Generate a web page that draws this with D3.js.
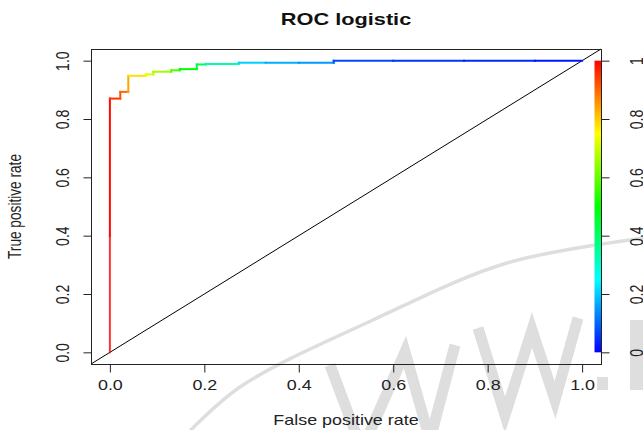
<!DOCTYPE html>
<html>
<head>
<meta charset="utf-8">
<script src="https://cdn.jsdelivr.net/npm/d3@7"></script>
<style>
  body { margin: 0; background: #fff; }
  svg { display: block; font-family: "Liberation Sans", Arial, sans-serif; }
</style>
</head>
<body>
<script>
// ROC curve points (fpr, tpr) and the cutoff that colours each piece
const fpr    = [0, 0, 0, 0.022, 0.022, 0.039, 0.039, 0.076, 0.076, 0.092, 0.092, 0.130, 0.130, 0.148, 0.148, 0.184, 0.184, 0.203, 0.203, 0.273, 0.273, 0.33, 0.40, 0.474, 0.474, 0.60, 0.75, 0.90, 1.0];
const tpr    = [0, 0.40, 0.870, 0.870, 0.893, 0.893, 0.948, 0.948, 0.953, 0.953, 0.962, 0.962, 0.967, 0.967, 0.971, 0.971, 0.987, 0.987, 0.989, 0.989, 0.993, 0.993, 0.993, 0.993, 1.0, 1.0, 1.0, 1.0, 1.0];
const cutoff = [1.0, 0.99, 0.95, 0.92, 0.90, 0.84, 0.78, 0.73, 0.72, 0.68, 0.66, 0.60, 0.58, 0.53, 0.50, 0.45, 0.42, 0.36, 0.33, 0.27, 0.20, 0.17, 0.15, 0.10, 0.07, 0.05, 0.04, 0.02, 0.0];

const xTicks = [0, 0.2, 0.4, 0.6, 0.8, 1.0];
const yTicks = [0, 0.2, 0.4, 0.6, 0.8, 1.0];
const barTicks = [0, 0.2, 0.4, 0.6, 0.8, 1];
const barTickLabels = ["0", "0.2", "0.4", "0.6", "0.8", "1"];

const W = 643, H = 430;
const sx = 1.28; // picture is stretched sideways

const svg = d3.select("body").append("svg").attr("width", W).attr("height", H);

// scales (R style 4% padding)
const x = d3.scaleLinear().domain([-0.04, 1.04]).range([91, 601]);
const y = d3.scaleLinear().domain([-0.04, 1.04]).range([364, 49]);

// colour of a cutoff, like rev(rainbow(start=0,end=4/6))
const col = c => d3.hsl((1 - c) * 240, 1, 0.5).formatHex();

// watermark (light grey, behind)
const grey = "#dedede";
const wm = svg.append("g").attr("fill", "none").attr("stroke", grey);
wm.append("path")
  .attr("stroke-width", 3.5)
  .attr("d", d3.line().curve(d3.curveCatmullRom)([[185, 436], [240, 387], [373, 320], [507, 263], [645, 238]]));
wm.append("path")
  .attr("stroke-width", 11).attr("stroke-linejoin", "miter")
  .attr("d", d3.line()([[330, 365], [362, 450], [405, 352], [430, 440], [455, 345]]));
wm.append("path")
  .attr("stroke-width", 11).attr("stroke-linejoin", "miter")
  .attr("d", d3.line()([[478, 328], [505, 415], [532, 330], [555, 400], [578, 318]]));
svg.append("rect").attr("x", 597).attr("y", 377).attr("width", 11).attr("height", 13).attr("fill", grey);
svg.append("rect").attr("x", 630).attr("y", 320).attr("width", 14).attr("height", 70).attr("fill", grey);

// diagonal
svg.append("line")
  .attr("x1", x(-0.04)).attr("y1", y(-0.04))
  .attr("x2", x(1.04)).attr("y2", y(1.04))
  .attr("stroke", "#000").attr("stroke-width", 1);

// coloured ROC curve
const segs = d3.range(fpr.length - 1).map(i => ({
  x1: fpr[i], y1: tpr[i], x2: fpr[i + 1], y2: tpr[i + 1], c: cutoff[i]
}));
svg.append("g").selectAll("line").data(segs).enter().append("line")
  .attr("x1", d => x(d.x1)).attr("y1", d => y(d.y1))
  .attr("x2", d => x(d.x2)).attr("y2", d => y(d.y2))
  .attr("stroke", d => col(d.c))
  .attr("stroke-opacity", (d, i) => i === 0 ? 0.8 : 1)
  .attr("stroke-width", 2)
  .attr("stroke-linecap", "square");

// colour bar
const grad = svg.append("defs").append("linearGradient")
  .attr("id", "bar").attr("x1", 0).attr("y1", 1).attr("x2", 0).attr("y2", 0);
grad.selectAll("stop").data(d3.range(0, 1.0001, 0.05)).enter().append("stop")
  .attr("offset", d => d).attr("stop-color", d => col(d));
svg.append("rect")
  .attr("x", 594.5).attr("y", y(1)).attr("width", 6.5).attr("height", y(0) - y(1))
  .attr("fill", "url(#bar)");

// box
svg.append("rect")
  .attr("x", x(-0.04) + 0.5).attr("y", y(1.04) + 0.5)
  .attr("width", x(1.04) - x(-0.04)).attr("height", y(-0.04) - y(1.04))
  .attr("fill", "none").attr("stroke", "#222").attr("stroke-width", 1);

// axes
function styleAxis(g) {
  g.selectAll("path.domain").attr("stroke", "#222");
  g.selectAll(".tick line").attr("stroke", "#222");
  g.selectAll(".tick text").attr("fill", "#222").attr("font-size", 14)
    .attr("x", null).attr("y", null).attr("dy", null);
}

const gx = svg.append("g").attr("transform", "translate(0,364.5)")
  .call(d3.axisBottom(x).tickValues(xTicks).tickFormat(d3.format(".1f")).tickSize(8).tickSizeOuter(0));
gx.select("path.domain").attr("d", `M${x(0)},0H${x(1)}`);
styleAxis(gx);
gx.selectAll(".tick text").attr("text-anchor", "middle").attr("transform", `translate(0,25) scale(${sx},1)`);

const gy = svg.append("g").attr("transform", "translate(91.5,0)")
  .call(d3.axisLeft(y).tickValues(yTicks).tickFormat(d3.format(".1f")).tickSize(8).tickSizeOuter(0));
gy.select("path.domain").attr("d", `M0,${y(0)}V${y(1)}`);
styleAxis(gy);
gy.selectAll(".tick text").attr("text-anchor", "middle").attr("transform", `translate(-23,0) scale(${sx},1) rotate(-90)`);

const gr = svg.append("g").attr("transform", "translate(601.5,0)")
  .call(d3.axisRight(y).tickValues(barTicks).tickFormat((d, i) => barTickLabels[i]).tickSize(8).tickSizeOuter(0));
gr.select("path.domain").attr("d", `M0,${y(0)}V${y(1)}`);
styleAxis(gr);
gr.selectAll(".tick text").attr("text-anchor", "middle").attr("transform", `translate(41,0) scale(${sx},1) rotate(-90)`);

// titles
svg.append("text")
  .attr("transform", `translate(346,25) scale(${sx},1)`)
  .attr("text-anchor", "middle").attr("font-size", 17).attr("font-weight", "bold").attr("fill", "#111")
  .text("ROC logistic");

svg.append("text")
  .attr("transform", `translate(346,425) scale(${sx},1)`)
  .attr("text-anchor", "middle").attr("font-size", 14).attr("fill", "#222")
  .text("False positive rate");

svg.append("text")
  .attr("transform", `translate(21,206.5) scale(${sx},1) rotate(-90)`)
  .attr("text-anchor", "middle").attr("font-size", 14).attr("fill", "#222")
  .attr("textLength", 105).attr("lengthAdjust", "spacingAndGlyphs")
  .text("True positive rate");
</script>
</body>
</html>
